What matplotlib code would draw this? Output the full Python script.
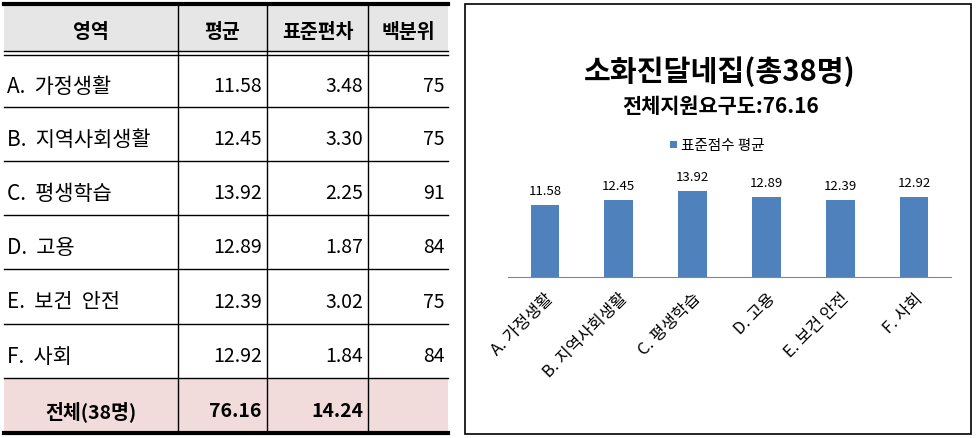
import matplotlib

matplotlib.use("Agg")

import matplotlib.pyplot as plt
from matplotlib.patches import Rectangle

plt.rcParams["font.family"] = ["Noto Sans CJK KR", "DejaVu Sans"]

# table / chart data
categories = ["A. 가정생활", "B. 지역사회생활", "C. 평생학습", "D. 고용", "E. 보건 안전", "F. 사회"]
means = [11.58, 12.45, 13.92, 12.89, 12.39, 12.92]
std_devs = [3.48, 3.30, 2.25, 1.87, 3.02, 1.84]
percentiles = [75, 75, 91, 84, 75, 84]
headers = ["영역", "평균", "표준편차", "백분위"]
total_label = "전체(38명)"
total_mean = 76.16
total_std = 14.24
chart_title = "소화진달네집(총38명)"
chart_subtitle = "전체지원요구도:76.16"
series_name = "표준점수 평균"

W, H = 977, 439
BAR_COLOR = "#4f81bd"

fig = plt.figure(figsize=(W / 100, H / 100), dpi=100)

# ---- table drawn on a pixel-coordinate overlay ----
tab = fig.add_axes([0, 0, 1, 1])
tab.set_xlim(0, W)
tab.set_ylim(H, 0)
tab.axis("off")

x0, x1 = 4, 448
col_edges = [178, 267, 368]
row_tops = [56, 108, 162, 216, 270, 325, 379, 434]

tab.add_patch(Rectangle((x0, 5), x1 - x0, 47, color="#e6e6e6", lw=0))
tab.add_patch(Rectangle((x0, row_tops[-2]), x1 - x0, row_tops[-1] - row_tops[-2], color="#f2dcdb", lw=0))

tab.plot([x0, x1], [5, 5], color="black", lw=3)
tab.plot([x0, x1], [52, 52], color="black", lw=1)
tab.plot([x0, x1], [56, 56], color="black", lw=1)
for y in row_tops[1:-1]:
    tab.plot([x0, x1], [y, y], color="black", lw=1)
tab.plot([x0, x1], [434, 434], color="black", lw=3)
for cx in col_edges:
    tab.plot([cx, cx], [5, 434], color="black", lw=1)

head_x = [91, 222, 318, 408]
for hx, h in zip(head_x, headers):
    tab.text(hx, 33, h, ha="center", va="center", fontsize=14, fontweight="bold")

num_right = [262, 363, 445]
for i, cat in enumerate(categories):
    yc = (row_tops[i] + row_tops[i + 1]) / 2 + 5
    tab.text(7, yc, cat.replace(". ", ".  ").replace("건 안", "건  안"),
             ha="left", va="center", fontsize=15)
    tab.text(num_right[0], yc, f"{means[i]:.2f}", ha="right", va="center", fontsize=14)
    tab.text(num_right[1], yc, f"{std_devs[i]:.2f}", ha="right", va="center", fontsize=14)
    tab.text(num_right[2], yc, f"{percentiles[i]}", ha="right", va="center", fontsize=14)

yc = (row_tops[-2] + row_tops[-1]) / 2 + 5
tab.text(91, yc, total_label, ha="center", va="center", fontsize=14, fontweight="bold")
tab.text(num_right[0], yc, f"{total_mean:.2f}", ha="right", va="center", fontsize=14, fontweight="bold")
tab.text(num_right[1], yc, f"{total_std:.2f}", ha="right", va="center", fontsize=14, fontweight="bold")

# chart frame, title, legend
tab.add_patch(Rectangle((465, 5), 506, 430, fill=False, ec="black", lw=1.2))
tab.text(720, 72, chart_title, ha="center", va="center", fontsize=21, fontweight="bold")
tab.text(721, 107, chart_subtitle, ha="center", va="center", fontsize=15, fontweight="bold")
tab.add_patch(Rectangle((670, 142), 7, 7, color=BAR_COLOR, lw=0))
tab.text(681, 146, series_name, ha="left", va="center", fontsize=10.5)

# ---- bar chart ----
ax = fig.add_axes([508 / W, (H - 278) / H, (951 - 508) / W, (278 - 179) / H])
xs = range(len(categories))
bars = ax.bar(xs, means, width=0.39, color=BAR_COLOR)
for b, v in zip(bars, means):
    ax.annotate(f"{v:.2f}", (b.get_x() + b.get_width() / 2, v), xytext=(0, 6),
                textcoords="offset points", ha="center", va="bottom", fontsize=9.5)
ax.set_xlim(-0.5, len(categories) - 0.5)
ax.set_ylim(0, 16)
ax.set_xticks(list(xs))
ax.set_xticklabels(categories, rotation=45, ha="right", rotation_mode="anchor", fontsize=12)
ax.tick_params(axis="x", length=0, pad=9)
ax.set_yticks([])
for side in ["top", "right", "left"]:
    ax.spines[side].set_visible(False)
ax.spines["bottom"].set_color("#868686")
ax.patch.set_alpha(0)

fig.savefig("out.png", dpi=100)
